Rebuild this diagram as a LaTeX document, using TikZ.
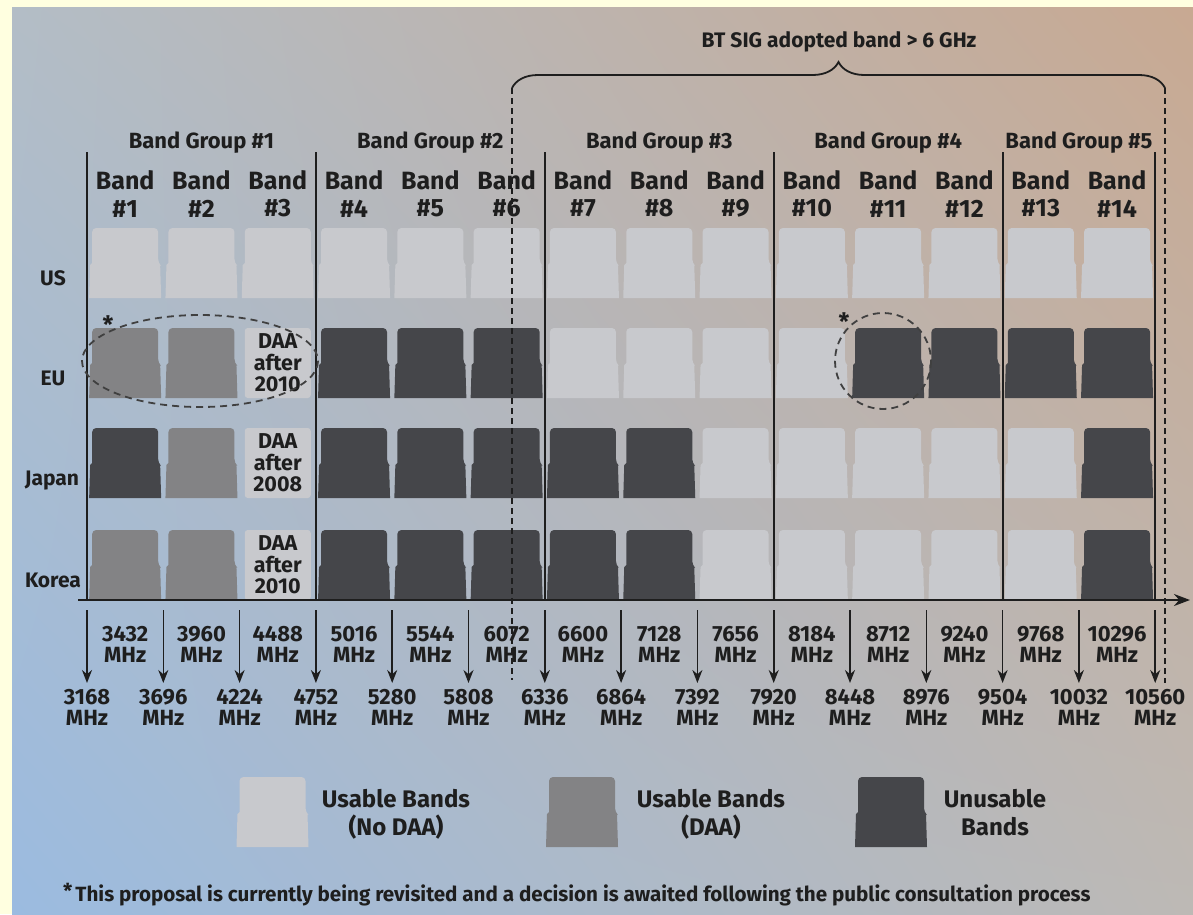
\documentclass[tikz,border=0pt]{standalone}
\usepackage{fontspec}
\setmainfont{Fira Sans}
\usetikzlibrary{arrows.meta,decorations.pathreplacing,shadings}

\definecolor{pagebg}{HTML}{FFFFE0}
\definecolor{bgul}{HTML}{B3BDC6}
\definecolor{bgur}{HTML}{C8A992}
\definecolor{bgll}{HTML}{9BBBE0}
\definecolor{bglr}{HTML}{BDB9B5}
\definecolor{blklight}{HTML}{C8C9CD}
\definecolor{blkmid}{HTML}{838385}
\definecolor{blkdark}{HTML}{45464A}
\definecolor{ink}{HTML}{1E1E1E}

\tikzset{
  blkL/.style={fill=blklight},
  blkM/.style={fill=blkmid},
  blkD/.style={fill=blkdark},
  daa/.style={fill=none},
  grplbl/.style={font=\bfseries\fontsize{22}{26}\selectfont, text=ink, inner sep=0pt, anchor=base},
  bandlbl/.style={font=\bfseries\fontsize{25}{27.4}\selectfont, text=ink, inner sep=0pt, align=center},
  rowlbl/.style={font=\bfseries\fontsize{21}{24}\selectfont, text=ink, inner sep=0pt, anchor=base},
  freqlbl/.style={font=\bfseries\fontsize{22}{20.5}\selectfont, text=ink, inner sep=0pt, align=center},
  daabox/.style={fill=blklight, rounded corners=3pt, minimum width=66pt, minimum height=70pt,
    inner sep=0pt, align=center, font=\bfseries\fontsize{21.5}{21.5}\selectfont, text=ink},
  legtxt/.style={font=\bfseries\fontsize{24}{28}\selectfont, text=ink, inner sep=0pt, align=center},
  starmark/.style={font=\bfseries\fontsize{24}{24}\selectfont, text=ink, inner sep=0pt, anchor=base},
  grpline/.style={line width=1.8pt, draw=ink},
  axisline/.style={line width=2pt, draw=ink, -{Stealth[length=16pt,width=12pt]}},
  farrow/.style={line width=1.6pt, draw=ink, -{Stealth[length=13pt,width=10pt]}},
  dashline/.style={line width=1.6pt, draw=ink, dash pattern=on 6pt off 4pt},
  ovalmark/.style={line width=1.8pt, draw=ink!85, dash pattern=on 7pt off 5pt},
  bracemark/.style={line width=1.8pt, draw=ink, decorate, decoration={brace, amplitude=26pt}}
}

% one band block: centre x, top y, style
\newcommand{\bandblk}[3]{%
  \fill[#3, shift={({#1},{#2})}]
    (-36,70) -- (-35,37) -- (-33,35) [rounded corners=4pt] -- (-33,0) -- (33,0)
    -- (33,35) [sharp corners] -- (35,37) -- (36,70) -- cycle;}

\begin{document}
\begin{tikzpicture}[x=1pt,y=-1pt]

  % --- background ---
  \useasboundingbox (0,0) rectangle (1193,914);
  \fill[pagebg] (0,0) rectangle (1193,914);
  \shade[upper left=bgul, upper right=bgur, lower left=bgll, lower right=bglr]
    (12,7) rectangle (1193,914);

  % --- headers ---
  \node[anchor=base, font=\bfseries\fontsize{21}{24}\selectfont, text=ink, inner sep=0pt]
    (btsig) at (839,47) {BT SIG adopted band > 6 GHz};
  \foreach \g/\c in {1/1.5,2/4.5,3/7.5,4/10.5,5/13}
    \node[grplbl] (grp\g) at ({87+76.3*\c},148) {Band Group \#\g};
  \foreach \k in {1,...,14}
    \node[bandlbl] (band\k) at ({87+76.3*(\k-0.5)},194) {Band\\\#\k};

  % --- rows ---
  \node[rowlbl] (rowUS) at (53,285) {US};
  \node[rowlbl] (rowEU) at (53,385) {EU};
  \node[rowlbl] (rowJapan) at (52,485) {Japan};
  \node[rowlbl] (rowKorea) at (53,587) {Korea};

  \foreach \c [count=\k] in {blkL,blkL,blkL,blkL,blkL,blkL,blkL,blkL,blkL,blkL,blkL,blkL,blkL,blkL}
    {\bandblk{87+76.3*(\k-0.5)}{228}{\c}}
  \foreach \c [count=\k] in {blkM,blkM,daa,blkD,blkD,blkD,blkL,blkL,blkL,blkL,blkD,blkD,blkD,blkD}
    {\bandblk{87+76.3*(\k-0.5)}{328}{\c}}
  \foreach \c [count=\k] in {blkD,blkM,daa,blkD,blkD,blkD,blkD,blkD,blkL,blkL,blkL,blkL,blkL,blkD}
    {\bandblk{87+76.3*(\k-0.5)}{428}{\c}}
  \foreach \c [count=\k] in {blkM,blkM,daa,blkD,blkD,blkD,blkD,blkD,blkL,blkL,blkL,blkL,blkL,blkD}
    {\bandblk{87+76.3*(\k-0.5)}{530}{\c}}

  % --- DAA boxes ---
  \node[daabox] (daaEU) at (277.75,363) {DAA\\after\\2010};
  \node[daabox] (daaJapan) at (277.75,463) {DAA\\after\\2008};
  \node[daabox] (daaKorea) at (277.75,565) {DAA\\after\\2010};

  % --- group lines ---
  \foreach \k in {0,3,6,9,12,14}
    \draw[grpline] ({87+76.3*\k},152) -- ({87+76.3*\k},600);

  % --- axis ---
  \coordinate (axL) at (78,600);
  \coordinate (axR) at (1190,600);
  \draw[axisline] (axL) -- (axR);

  % --- frequencies ---
  \foreach \k in {0,...,14} {
    \pgfmathtruncatemacro{\flo}{3168+528*\k}
    \coordinate (ta\k) at ({87+76.3*\k},610);
    \coordinate (tb\k) at ({87+76.3*\k},683);
    \draw[farrow] (ta\k) -- (tb\k);
    \node[freqlbl] (lo\k) at ({87+76.3*\k},707.5) {\flo\\MHz};
  }
  \foreach \k in {1,...,14} {
    \pgfmathtruncatemacro{\fmid}{3168+528*\k-264}
    \node[freqlbl] (mid\k) at ({87+76.3*(\k-0.5)},644.5) {\fmid\\MHz};
  }

  % --- marked regions ---
  \draw[ovalmark] (200,361) ellipse [x radius=118, y radius=46];
  \draw[ovalmark] (883,361) circle [radius=48];
  \node[starmark] (starEU) at (108,333) {*};
  \node[starmark] (starB11) at (844,330) {*};

  % --- brace and dashed limits ---
  \coordinate (brL) at (512,88);
  \coordinate (brR) at (1165,88);
  \coordinate (dsL) at (512,680);
  \coordinate (dsR) at (1165,683);
  \draw[bracemark] (brL) -- (brR);
  \draw[dashline] (brL) -- (dsL);
  \draw[dashline] (brR) -- (dsR);

  % --- legend ---
  \bandblk{272.5}{777}{blkL}
  \bandblk{582}{777}{blkM}
  \bandblk{891}{777}{blkD}
  \node[legtxt] (legL) at (396,814.7) {Usable Bands\\(No DAA)};
  \node[legtxt] (legM) at (711,814.7) {Usable Bands\\(DAA)};
  \node[legtxt] (legD) at (995,812.4) {Unusable\\Bands};

  % --- footnote ---
  \node[anchor=base west, font=\bfseries\fontsize{20.6}{24}\selectfont, text=ink, inner sep=0pt]
    (note) at (63,901) {\raisebox{3pt}{*}\hspace{3pt}This proposal is currently being revisited and a decision is awaited following the public consultation process};

\end{tikzpicture}
\end{document}
